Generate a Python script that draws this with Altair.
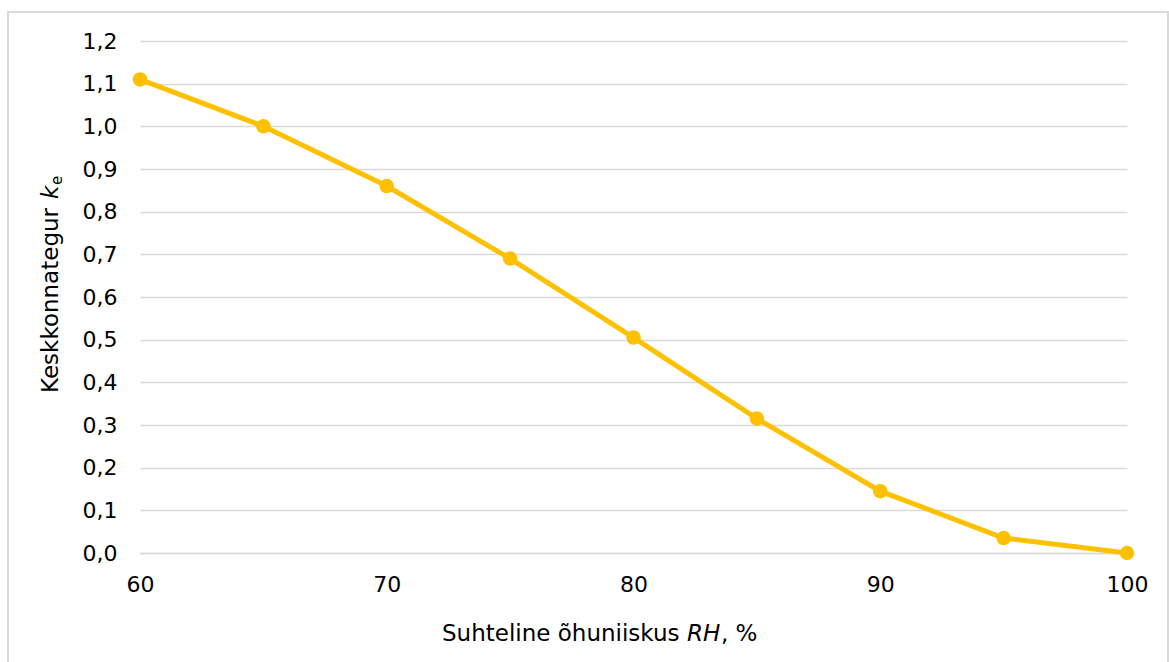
import altair as alt
import pandas as pd

# Relative humidity (%) and environmental factor k_e
rh = [60, 65, 70, 75, 80, 85, 90, 95, 100]
ke = [1.11, 1.0, 0.86, 0.69, 0.505, 0.315, 0.145, 0.035, 0.0]
x_ticks = [60, 70, 80, 90, 100]
y_ticks = [0.0, 0.1, 0.2, 0.3, 0.4, 0.5, 0.6, 0.7, 0.8, 0.9, 1.0, 1.1, 1.2]

FONT = "DejaVu Sans"
GOLD = "#FFC000"
GRID = "#D9D9D9"
W, H = 987, 512

df = pd.DataFrame({"rh": rh, "ke": ke})

x_enc = alt.X(
    "rh:Q",
    scale=alt.Scale(domain=[60, 100], nice=False, zero=False),
    axis=alt.Axis(values=x_ticks, title=None, grid=False, ticks=False,
                  domain=True, domainColor=GRID, domainWidth=1.3,
                  labelFont=FONT, labelFontSize=22, labelColor="#000000",
                  labelPadding=21, labelFlush=False),
)
y_enc = alt.Y(
    "ke:Q",
    scale=alt.Scale(domain=[0, 1.2], nice=False),
    axis=alt.Axis(values=y_ticks, title=None, grid=True, gridColor=GRID,
                  gridWidth=1.3, ticks=False, domain=False,
                  labelFont=FONT, labelFontSize=22, labelColor="#000000",
                  labelPadding=23,
                  labelExpr="replace(format(datum.value, '.1f'), '.', ',')"),
)

line = alt.Chart(df).mark_line(color=GOLD, strokeWidth=5).encode(x=x_enc, y=y_enc)
points = alt.Chart(df).mark_circle(color=GOLD, opacity=1, size=210).encode(x="rh:Q", y="ke:Q")

one = pd.DataFrame({"d": [0]})

def label(text, x, y, **kw):
    return alt.Chart(one).mark_text(text=text, font=FONT, color="#000000", **kw).encode(
        x=alt.value(x), y=alt.value(y))

# x-axis title: "Suhteline õhuniiskus RH, %" with RH in italics
xt1 = label("Suhteline õhuniiskus", 302, 600, fontSize=23, align="left", baseline="alphabetic")
xt2 = label("RH", 547, 600, fontSize=23, fontStyle="italic", align="left", baseline="alphabetic")
xt3 = label(", %", 581, 600, fontSize=23, align="left", baseline="alphabetic")

# y-axis title: "Keskkonnategur k_e" with italic k and subscript e
yt1 = label("Keskkonnategur", -82, 352, fontSize=23, angle=270, align="left", baseline="alphabetic")
yt2 = label("k", -82, 158, fontSize=23, fontStyle="italic", angle=270, align="left", baseline="alphabetic")
yt3 = label("e", -78, 144, fontSize=15, angle=270, align="left", baseline="alphabetic")

# outer frame
frame = alt.Chart(one).mark_rect(fill=None, stroke=GRID, strokeWidth=2, clip=False).encode(
    x=alt.value(-132), x2=alt.value(1028), y=alt.value(-29), y2=alt.value(640))

chart = alt.layer(frame, line, points, xt1, xt2, xt3, yt1, yt2, yt3).properties(
    width=W, height=H,
    autosize=alt.AutoSizeParams(type="none"),
    padding={"left": 140, "top": 41, "right": 42, "bottom": 109},
    background="#FFFFFF",
).configure_view(stroke=None)

chart.save("out.html", embed_options={"renderer": "svg", "actions": False})
